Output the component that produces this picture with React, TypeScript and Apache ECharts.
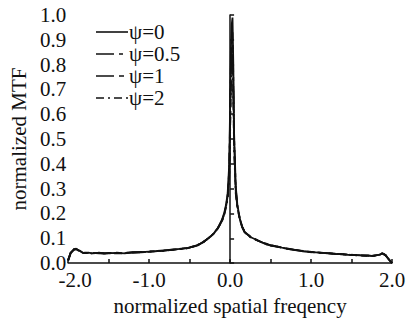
import React, { useEffect, useRef } from "react";
import * as echarts from "echarts";

const freq = [-2.0, -1.97, -1.93, -1.9, -1.86, -1.81, -1.75, -1.7, -1.62, -1.55, -1.5, -1.4, -1.3, -1.21, -1.1, -1.0, -0.9, -0.82, -0.73, -0.65, -0.57, -0.5, -0.4, -0.33, -0.29, -0.24, -0.2, -0.15, -0.1, -0.07, -0.05, -0.03, -0.01, 0.0, 0.01, 0.02, 0.03, 0.04, 0.05, 0.07, 0.09, 0.12, 0.15, 0.18, 0.25, 0.33, 0.4, 0.45, 0.5, 0.57, 0.64, 0.72, 0.8, 0.9, 0.98, 1.1, 1.2, 1.3, 1.37, 1.45, 1.5, 1.6, 1.7, 1.76, 1.8, 1.85, 1.88, 1.92, 1.96, 2.0];

const mtfPsi0 = [0.01, 0.04, 0.055, 0.058, 0.05, 0.04, 0.042, 0.039, 0.041, 0.038, 0.04, 0.041, 0.039, 0.043, 0.044, 0.046, 0.048, 0.05, 0.053, 0.056, 0.058, 0.062, 0.072, 0.085, 0.095, 0.108, 0.12, 0.142, 0.175, 0.205, 0.235, 0.28, 0.4, 0.62, 0.86, 0.96, 0.99, 0.8, 0.52, 0.31, 0.235, 0.18, 0.145, 0.125, 0.105, 0.093, 0.082, 0.076, 0.072, 0.067, 0.062, 0.057, 0.053, 0.048, 0.045, 0.042, 0.04, 0.037, 0.036, 0.034, 0.033, 0.031, 0.03, 0.029, 0.031, 0.034, 0.04, 0.032, 0.015, 0.0];
const mtfPsi05 = [0.012, 0.042, 0.054, 0.056, 0.048, 0.041, 0.04, 0.041, 0.039, 0.04, 0.039, 0.042, 0.04, 0.042, 0.045, 0.045, 0.049, 0.051, 0.052, 0.057, 0.059, 0.063, 0.073, 0.084, 0.096, 0.107, 0.121, 0.14, 0.172, 0.2, 0.23, 0.27, 0.38, 0.58, 0.8, 0.9, 0.93, 0.74, 0.5, 0.3, 0.23, 0.178, 0.147, 0.127, 0.107, 0.092, 0.083, 0.077, 0.071, 0.068, 0.061, 0.058, 0.052, 0.049, 0.044, 0.043, 0.039, 0.038, 0.035, 0.035, 0.032, 0.032, 0.029, 0.03, 0.03, 0.035, 0.039, 0.031, 0.016, 0.0];
const mtfPsi1 = [0.011, 0.039, 0.053, 0.057, 0.049, 0.042, 0.041, 0.04, 0.04, 0.039, 0.041, 0.04, 0.041, 0.044, 0.043, 0.047, 0.047, 0.05, 0.054, 0.055, 0.06, 0.061, 0.071, 0.086, 0.094, 0.109, 0.119, 0.143, 0.17, 0.2, 0.228, 0.265, 0.36, 0.55, 0.76, 0.85, 0.88, 0.7, 0.48, 0.29, 0.228, 0.177, 0.144, 0.126, 0.106, 0.094, 0.081, 0.078, 0.07, 0.066, 0.063, 0.056, 0.054, 0.047, 0.046, 0.041, 0.041, 0.036, 0.037, 0.033, 0.034, 0.03, 0.031, 0.028, 0.032, 0.033, 0.041, 0.033, 0.014, 0.0];
const mtfPsi2 = [0.013, 0.041, 0.056, 0.055, 0.051, 0.04, 0.043, 0.038, 0.042, 0.039, 0.04, 0.039, 0.04, 0.042, 0.044, 0.046, 0.048, 0.049, 0.053, 0.056, 0.057, 0.062, 0.074, 0.084, 0.095, 0.106, 0.12, 0.141, 0.168, 0.198, 0.225, 0.26, 0.35, 0.52, 0.7, 0.78, 0.82, 0.66, 0.46, 0.28, 0.225, 0.176, 0.146, 0.124, 0.105, 0.092, 0.083, 0.075, 0.072, 0.067, 0.062, 0.057, 0.053, 0.048, 0.045, 0.042, 0.04, 0.037, 0.036, 0.034, 0.033, 0.031, 0.03, 0.029, 0.031, 0.034, 0.04, 0.032, 0.015, 0.0];

const seriesNames = ["ψ=0", "ψ=0.5", "ψ=1", "ψ=2"];
const seriesValues = [mtfPsi0, mtfPsi05, mtfPsi1, mtfPsi2];
const seriesDashes: (string | number[])[] = ["solid", [18, 5, 4, 5], [18, 5, 5, 5], [8, 4, 2, 4]];

const FONT = "Liberation Serif";

export default function App() {
  const ref = useRef<HTMLDivElement>(null);
  useEffect(() => {
    if (!ref.current) return;
    const chart = echarts.init(ref.current, undefined, { renderer: "svg" });
    const legendItems: any[] = [];
    seriesNames.forEach((name, i) => {
      const cy = 32 + i * 22;
      const dash = seriesDashes[i];
      legendItems.push({
        type: "line",
        shape: { x1: 96, y1: cy, x2: 128, y2: cy },
        style: { stroke: "#111", lineWidth: 1.6, lineDash: Array.isArray(dash) ? dash : null },
      });
      legendItems.push({
        type: "text",
        x: 129,
        y: cy,
        style: { text: name, fontFamily: FONT, fontSize: 21, fill: "#111", verticalAlign: "middle", align: "left" },
      });
    });
    chart.setOption({
      animation: false,
      backgroundColor: "#fff",
      grid: { left: 59, right: 20, top: 15, bottom: 48, containLabel: false },
      graphic: legendItems,
      xAxis: {
        type: "value",
        min: -2,
        max: 2,
        interval: 1,
        name: "normalized spatial freqency",
        nameLocation: "middle",
        nameGap: 6,
        nameTextStyle: { fontFamily: FONT, fontSize: 21, color: "#111" },
        axisLine: { show: true, lineStyle: { color: "#111", width: 1.5 } },
        axisTick: { show: true, inside: true, length: 4, lineStyle: { color: "#111", width: 1.5 } },
        minorTick: { show: true, splitNumber: 2, length: 4, lineStyle: { color: "#111", width: 1.5 } },
        axisLabel: {
          fontFamily: FONT,
          fontSize: 21,
          color: "#111",
          margin: 6,
          formatter: (v: number) => (v === -2 ? "{first|" + v.toFixed(1) + "}" : v.toFixed(1)),
          rich: { first: { fontFamily: FONT, fontSize: 21, color: "#111", padding: [0, 0, 0, 14] } },
        },
        splitLine: { show: false },
      },
      yAxis: {
        type: "value",
        min: 0,
        max: 1,
        interval: 0.1,
        name: "normalized MTF",
        nameLocation: "middle",
        nameGap: 32,
        nameTextStyle: { fontFamily: FONT, fontSize: 21, color: "#111" },
        axisLine: { show: true, lineStyle: { color: "#111", width: 1.5 } },
        axisTick: { show: true, inside: true, length: 4, lineStyle: { color: "#111", width: 1.5 } },
        axisLabel: { fontFamily: FONT, fontSize: 21, color: "#111", margin: 2, formatter: (v: number) => v.toFixed(1) },
        splitLine: { show: false },
      },
      series: seriesNames.map((name, i) => ({
        name,
        type: "line",
        showSymbol: false,
        symbol: "none",
        data: freq.map((f, j) => [f, seriesValues[i][j]]),
        lineStyle: { color: "#111", width: 1.8, type: seriesDashes[i] },
        itemStyle: { color: "#111" },
      })),
    });
    return () => chart.dispose();
  }, []);
  return <div ref={ref} style={{ width: 412, height: 321, position: "absolute", left: 0, top: 0 }} />;
}
